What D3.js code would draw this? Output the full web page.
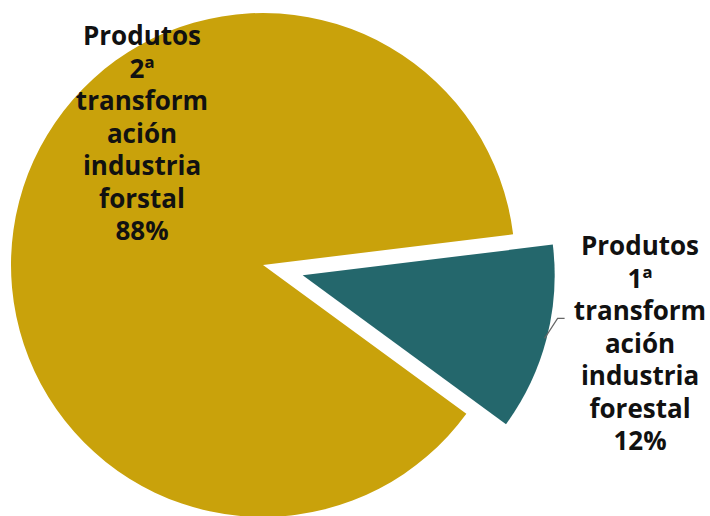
<!DOCTYPE html>
<html>
<head>
<meta charset="utf-8">
<script src="https://cdn.jsdelivr.net/npm/d3@7"></script>
<style>
  body { margin: 0; background: #fff; }
  #chart { width: 710px; height: 516px; }
  text { font-family: "Open Sans", sans-serif; font-weight: bold; }
</style>
</head>
<body>
<div id="chart"></div>
<script>
// Slice data
var categories = ['Produtos 1ª transformación industria forestal', 'Produtos 2ª transformación industria forestal'];
var values = [12, 88];
var labelLines = [
    ['Produtos', '1ª', 'transform', 'ación', 'industria', 'forestal', '12%'],
    ['Produtos', '2ª', 'transform', 'ación', 'industria', 'forstal', '88%']
];
var colors = ['#24676c', '#c9a20b'];

var width = 710, height = 516;
var cx = 263, cy = 265, radius = 252;
var explode = 41;

var svg = d3.select('#chart').append('svg')
    .attr('width', width)
    .attr('height', height);

var start = 83 * Math.PI / 180;
var pie = d3.pie().sort(null).value(function(d) { return d; })
    .startAngle(start).endAngle(start + 2 * Math.PI);
var arc = d3.arc().innerRadius(0).outerRadius(radius);

var arcs = pie(values);

function offset(d, i) {
    if (i !== 0) return [0, 0];
    var a = (d.startAngle + d.endAngle) / 2;
    return [Math.sin(a) * explode, -Math.cos(a) * explode];
}

var g = svg.append('g').attr('transform', 'translate(' + cx + ',' + cy + ')');

g.selectAll('path.slice')
    .data(arcs)
    .enter()
    .append('path')
    .attr('class', 'slice')
    .attr('d', arc)
    .attr('fill', function(d, i) { return colors[i]; })
    .attr('transform', function(d, i) {
        var o = offset(d, i);
        return 'translate(' + o[0] + ',' + o[1] + ')';
    });

// leader line for the small slice
var t = arcs[0];
var mid = (t.startAngle + t.endAngle) / 2;
var o = offset(t, 0);
var px = o[0] + Math.sin(mid) * (radius - 2);
var py = o[1] - Math.cos(mid) * (radius - 2);
g.append('path')
    .attr('d', 'M' + px + ',' + py + 'L' + (px + 13) + ',' + (py - 20) + 'L' + (px + 20) + ',' + (py - 20))
    .attr('fill', 'none')
    .attr('stroke', '#666')
    .attr('stroke-width', 1.2);

// labels
var labelPos = [[640, 255], [142, 45]];
var lineH = 32.5;

labelLines.forEach(function(lines, i) {
    var txt = svg.append('text')
        .attr('x', labelPos[i][0])
        .attr('y', labelPos[i][1])
        .attr('text-anchor', 'middle')
        .attr('font-size', 26)
        .attr('fill', '#111');
    lines.forEach(function(l, j) {
        txt.append('tspan')
            .attr('x', labelPos[i][0])
            .attr('dy', j === 0 ? 0 : lineH)
            .text(l);
    });
});
</script>
</body>
</html>
